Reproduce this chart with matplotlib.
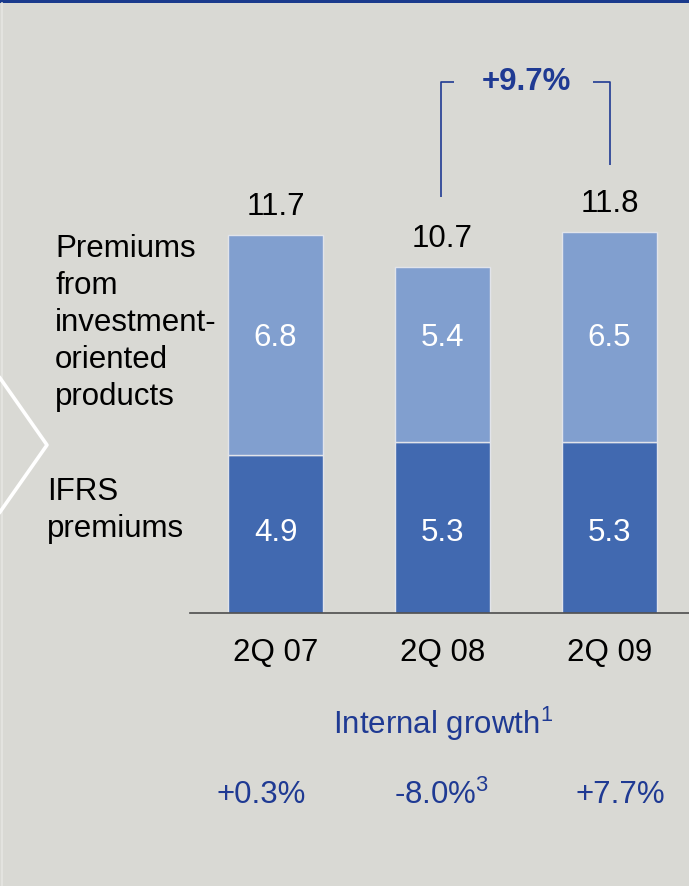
"""Quarterly premiums split: IFRS premiums vs. investment-oriented products."""

import matplotlib
matplotlib.use("Agg")
import matplotlib.pyplot as plt

plt.rcParams["font.family"] = ["Liberation Sans", "DejaVu Sans"]
plt.rcParams["mathtext.fontset"] = "custom"
plt.rcParams["mathtext.rm"] = "Liberation Sans"

CATEGORIES = ["2Q 07", "2Q 08", "2Q 09"]
IFRS = [4.9, 5.3, 5.3]
INVESTMENT = [6.8, 5.4, 6.5]
TOTALS = [11.7, 10.7, 11.8]
GROWTH = ["+0.3%", "-8.0%$^{\\mathrm{3}}$", "+7.7%"]
CHANGE_LABEL = "+9.7%"

BG = "#d9d9d4"
DARK_BAR = "#4169b0"
LIGHT_BAR = "#819fcf"
NAVY = "#1f3a93"

W, H = 689, 886


def fx(x):
    return x / W


def fy(y):
    return 1 - y / H


fig = plt.figure(figsize=(W / 100, H / 100), dpi=100, facecolor=BG)

# plot area: baseline at y=613px, 32.3 px per unit, 167 px between bars
ax = fig.add_axes([fx(190), fy(613), fx(499), 613 / H])
ax.set_facecolor("none")
ax.set_ylim(0, 613 / 32.3)
ax.set_xlim(-0.512, 2.476)
for side in ("top", "left", "right"):
    ax.spines[side].set_visible(False)
ax.spines["bottom"].set_color("#4d4d4d")
ax.spines["bottom"].set_linewidth(1.2)
ax.set_xticks([])
ax.set_yticks([])

x = list(range(len(CATEGORIES)))
width = 0.57
ax.bar(x, IFRS, width, color=DARK_BAR, edgecolor="#e2e4ea", linewidth=1.0)
ax.bar(x, INVESTMENT, width, bottom=IFRS, color=LIGHT_BAR, edgecolor="#e2e4ea", linewidth=1.0)

for i in x:
    ax.text(i, TOTALS[i] + 0.87, f"{TOTALS[i]:.1f}", ha="center", va="center",
            fontsize=22.5, color="black")
    ax.text(i, 8.51, f"{INVESTMENT[i]:.1f}", ha="center", va="center",
            fontsize=22.5, color="white")
    ax.text(i, 2.48, f"{IFRS[i]:.1f}", ha="center", va="center",
            fontsize=22.5, color="white")
    ax.text(i, -1.24, CATEGORIES[i], ha="center", va="center",
            fontsize=22.5, color="black", clip_on=False)

# growth bracket between 2Q 08 and 2Q 09
br_y = 16.44
ax.plot([0.99, 0.99, 1.07], [TOTALS[1] + 2.18, br_y, br_y], color=NAVY, lw=1.2,
        solid_capstyle="butt")
ax.plot([1.90, 2.005, 2.005], [br_y, br_y, TOTALS[2] + 2.07], color=NAVY, lw=1.2,
        solid_capstyle="butt")
ax.text(1.5, br_y, CHANGE_LABEL, ha="center", va="center", fontsize=22.5,
        fontweight="bold", color=NAVY)

# internal growth row
ax.text(1, (613 - 724) / 32.3, "Internal growth$^{\\mathrm{1}}$", ha="center",
        va="center", fontsize=22.5, color=NAVY, clip_on=False)
growth_x = [-0.087, 0.995, 2.063]
for gx, label in zip(growth_x, GROWTH):
    ax.text(gx, (613 - 795) / 32.3, label, ha="center", va="center",
            fontsize=22.5, color=NAVY, clip_on=False)

# segment labels on the left
fig.text(fx(55), fy(234), "Premiums\nfrom\ninvestment-\noriented\nproducts",
         ha="left", va="top", fontsize=22.5, color="black", linespacing=1.3)
fig.text(fx(47), fy(477), "IFRS\npremiums", ha="left", va="top",
         fontsize=22.5, color="black", linespacing=1.3)

# decorations: top rule, left edge and chevron
fig.add_artist(plt.Rectangle((0, fy(2.5)), 1, 2.5 / H, transform=fig.transFigure,
                             color="#1a3a8c", lw=0))
fig.add_artist(plt.Line2D([fx(1.5), fx(1.5)], [fy(3), 0], transform=fig.transFigure,
                          color="#e6e6e2", lw=1.2))
fig.add_artist(plt.Line2D([0, fx(47), 0], [fy(378), fy(445), fy(512)],
                          transform=fig.transFigure, color="white", lw=2.6))

fig.savefig("out.png", dpi=100, facecolor=BG)
